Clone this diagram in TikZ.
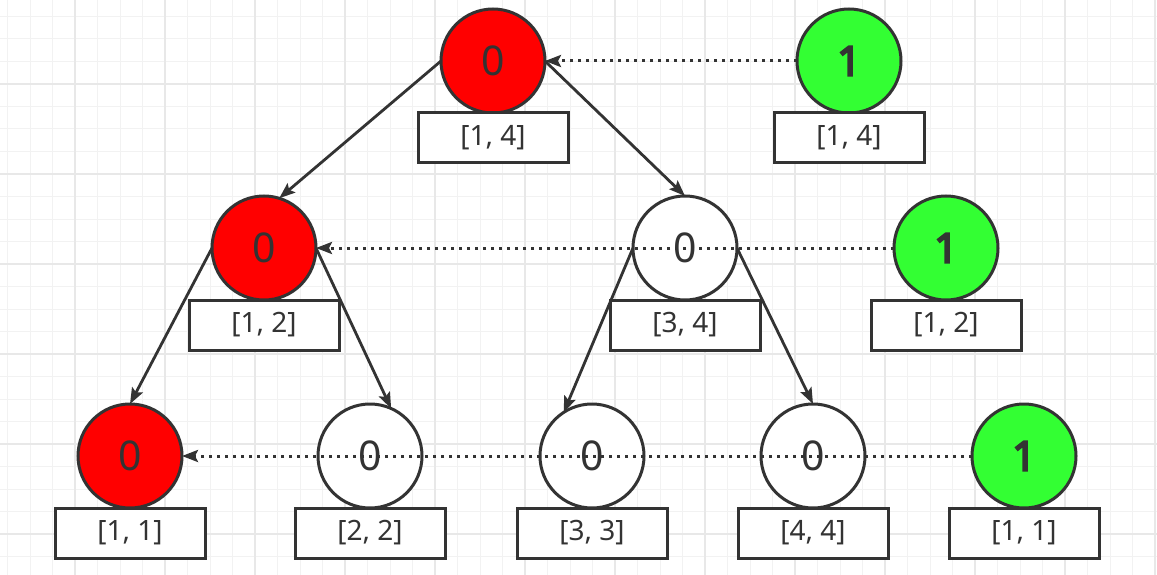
\documentclass[tikz,border=0pt]{standalone}
\usepackage{fontspec}
\setmainfont{Noto Sans}
\newfontfamily\qfont{Noto Sans}[FakeBold=5]
\usetikzlibrary{positioning,arrows.meta}
\definecolor{ink}{HTML}{333333}
\definecolor{hitred}{HTML}{FF0000}
\definecolor{qgreen}{HTML}{33FF33}
\definecolor{gridminor}{HTML}{F2F2F2}
\definecolor{gridmajor}{HTML}{E8E8E8}
\begin{document}
\begin{tikzpicture}[x=1pt,y=-1pt,
  every node/.style={outer sep=0pt,text=ink},
  val/.style={circle,draw=ink,fill=white,line width=3pt,minimum size=104pt,inner sep=0pt,font=\fontsize{41}{44}\selectfont},
  hit/.style={val,fill=hitred},
  qry/.style={val,fill=qgreen,font=\fontsize{41}{44}\qfont},
  rng/.style={rectangle,draw=ink,fill=white,line width=3pt,minimum width=150pt,minimum height=50pt,inner sep=0pt,font=\fontsize{28}{30}\selectfont},
  edge/.style={draw=ink,line width=2.8pt,-{Stealth[length=16pt,width=12pt,inset=3pt]}},
  link/.style={draw=ink,line width=3pt,dash pattern=on 3pt off 5pt,-{Stealth[length=16pt,width=12pt,inset=3pt]}}]
\useasboundingbox (0,0) rectangle (1157,575);
\fill[white] (0,0) rectangle (1157,575);
\foreach \x in {7.5,30,...,1157} \draw[gridminor,line width=1pt] (\x,0) -- (\x,575);
\foreach \y in {16.5,39,...,575} \draw[gridminor,line width=1pt] (0,\y) -- (1157,\y);
\foreach \x in {75,165,...,1157} \draw[gridmajor,line width=1.2pt] (\x,0) -- (\x,575);
\foreach \y in {84,174,...,575} \draw[gridmajor,line width=1.2pt] (0,\y) -- (1157,\y);

\node[hit] (t1) at (493,61) {0};
\node[hit] (t2) at (264,248) {0};
\node[val] (t3) at (685,248) {0};
\node[hit] (t4) at (130,456) {0};
\node[val] (t5) at (370,456) {0};
\node[val] (t6) at (592,456) {0};
\node[val] (t7) at (813,456) {0};
\node[qry] (q1) at (849,61) {1};
\node[qry] (q2) at (946,248) {1};
\node[qry] (q3) at (1024,456) {1};

\node[rng,below=0pt of t1] (t1r) {[1, 4]};
\node[rng,below=0pt of t2] (t2r) {[1, 2]};
\node[rng,below=0pt of t3] (t3r) {[3, 4]};
\node[rng,below=0pt of t4] (t4r) {[1, 1]};
\node[rng,below=0pt of t5] (t5r) {[2, 2]};
\node[rng,below=0pt of t6] (t6r) {[3, 3]};
\node[rng,below=0pt of t7] (t7r) {[4, 4]};
\node[rng,below=0pt of q1] (q1r) {[1, 4]};
\node[rng,below=0pt of q2] (q2r) {[1, 2]};
\node[rng,below=0pt of q3] (q3r) {[1, 1]};

\draw[edge] (t1.west) -- (t2.73);
\draw[edge] (t1.east) -- (t3.north);
\draw[edge] (t2.west) -- (t4.north);
\draw[edge] (t2.east) -- (t5.66);
\draw[edge] (t3.west) -- (t6.123);
\draw[edge] (t3.east) -- (t7.north);

\draw[link] (q1.west) -- (t1.east);
\draw[link] (q2.west) -- (t2.east);
\draw[link] (q3.west) -- (t4.east);
\end{tikzpicture}
\end{document}
